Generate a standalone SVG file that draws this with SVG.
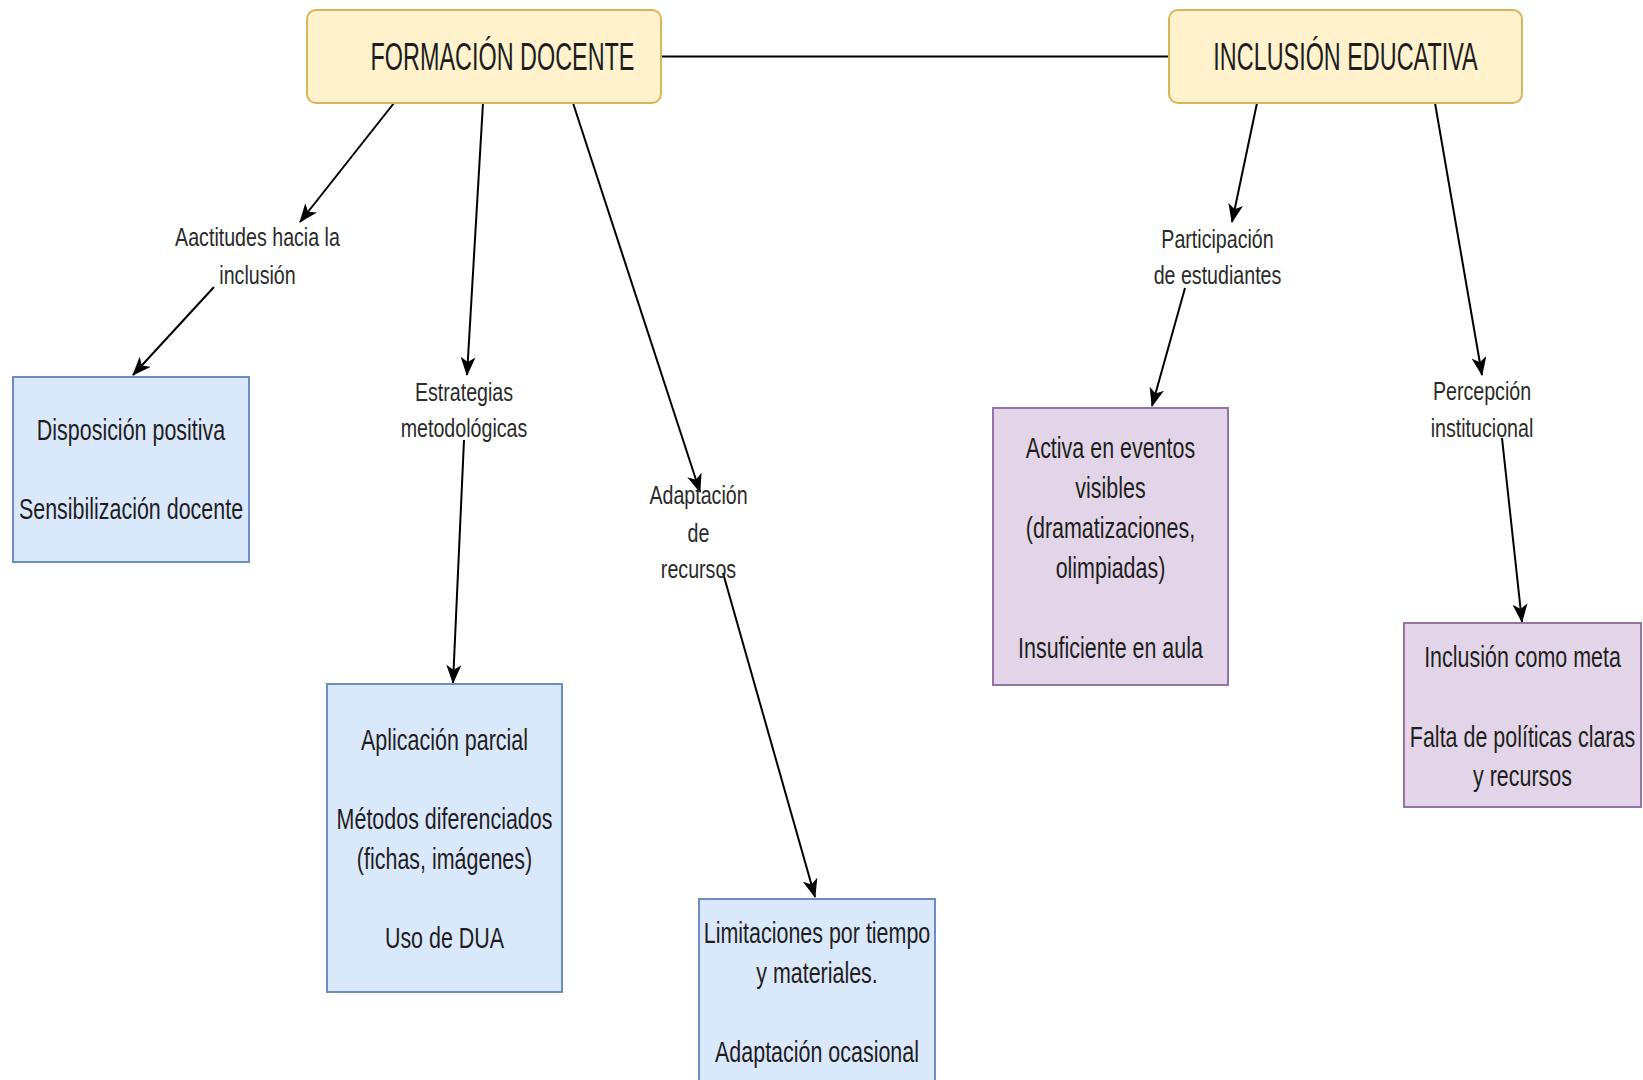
<svg xmlns="http://www.w3.org/2000/svg" width="1643" height="1080" viewBox="0 0 1643 1080">
  <style>
    .title { fill: #fff2cc; stroke: #d6b656; stroke-width: 2; }
    .blue { fill: #dae8fc; stroke: #6c8ebf; stroke-width: 2; }
    .purple { fill: #e1d5e7; stroke: #9673a6; stroke-width: 2; }
    text { font-family: "Liberation Sans", Arial, sans-serif; text-anchor: middle; }
    .tt { font-size: 39px; fill: #1e1e1e; }
    .nt { font-size: 29px; fill: #1e1e1e; }
    .lt { font-size: 25.5px; fill: #2a2a2a; }
    .edge { fill: none; stroke: #000; stroke-width: 2; }
  </style>
  <defs>
    <marker id="arrow" viewBox="0 0 19 15" refX="18" refY="7.5" markerWidth="19" markerHeight="15" markerUnits="userSpaceOnUse" orient="auto">
      <path d="M0,0 L19,7.5 L0,15 L5,7.5 Z" fill="#000"/>
    </marker>
  </defs>
  <rect width="1643" height="1080" fill="#fff"/>

  <!-- connectors -->
  <g id="connectors">
    <line class="edge" x1="661" y1="56.5" x2="1169" y2="56.5"/>
    <line class="edge" x1="394" y1="103" x2="300" y2="222" marker-end="url(#arrow)"/>
    <line class="edge" x1="214" y1="287" x2="133" y2="375" marker-end="url(#arrow)"/>
    <line class="edge" x1="483" y1="103" x2="467" y2="375" marker-end="url(#arrow)"/>
    <line class="edge" x1="464" y1="440" x2="453" y2="683" marker-end="url(#arrow)"/>
    <line class="edge" x1="573" y1="103" x2="700" y2="492" marker-end="url(#arrow)"/>
    <line class="edge" x1="723" y1="573" x2="815" y2="897" marker-end="url(#arrow)"/>
    <line class="edge" x1="1257" y1="103" x2="1232" y2="222" marker-end="url(#arrow)"/>
    <line class="edge" x1="1185" y1="288" x2="1152" y2="406" marker-end="url(#arrow)"/>
    <line class="edge" x1="1435" y1="103" x2="1482" y2="375" marker-end="url(#arrow)"/>
    <line class="edge" x1="1502" y1="438" x2="1522" y2="622" marker-end="url(#arrow)"/>
  </g>

  <!-- edge labels -->
  <g id="label-actitudes" transform="translate(257.5,0) scale(0.77,1)">
    <text class="lt" x="0" y="246">Aactitudes hacia la</text>
    <text class="lt" x="0" y="284">inclusión</text>
  </g>
  <g id="label-estrategias" transform="translate(464,0) scale(0.77,1)">
    <text class="lt" x="0" y="401">Estrategias</text>
    <text class="lt" x="0" y="437">metodológicas</text>
  </g>
  <g id="label-adaptacion" transform="translate(698.5,0) scale(0.77,1)">
    <text class="lt" x="0" y="504">Adaptación</text>
    <text class="lt" x="0" y="542">de</text>
    <text class="lt" x="0" y="578">recursos</text>
  </g>
  <g id="label-participacion" transform="translate(1217.5,0) scale(0.77,1)">
    <text class="lt" x="0" y="248">Participación</text>
    <text class="lt" x="0" y="284">de estudiantes</text>
  </g>
  <g id="label-percepcion" transform="translate(1482,0) scale(0.77,1)">
    <text class="lt" x="0" y="400">Percepción</text>
    <text class="lt" x="0" y="437">institucional</text>
  </g>

  <!-- main topics -->
  <g id="formacion-docente">
    <rect class="title" x="307" y="10" width="354" height="93" rx="9"/>
    <g transform="translate(502.5,0) scale(0.6,1)">
      <text class="tt" x="0" y="70">FORMACIÓN DOCENTE</text>
    </g>
  </g>
  <g id="inclusion-educativa">
    <rect class="title" x="1169" y="10" width="353" height="93" rx="9"/>
    <g transform="translate(1345.5,0) scale(0.6,1)">
      <text class="tt" x="0" y="70">INCLUSIÓN EDUCATIVA</text>
    </g>
  </g>

  <!-- findings: teacher training -->
  <g id="disposicion">
    <rect class="blue" x="13" y="377" width="236" height="185"/>
    <g transform="translate(131,0) scale(0.74,1)">
      <text class="nt" x="0" y="440">Disposición positiva</text>
      <text class="nt" x="0" y="519">Sensibilización docente</text>
    </g>
  </g>
  <g id="aplicacion">
    <rect class="blue" x="327" y="684" width="235" height="308"/>
    <g transform="translate(444.5,0) scale(0.74,1)">
      <text class="nt" x="0" y="750">Aplicación parcial</text>
      <text class="nt" x="0" y="829">Métodos diferenciados</text>
      <text class="nt" x="0" y="869">(fichas, imágenes)</text>
      <text class="nt" x="0" y="948">Uso de DUA</text>
    </g>
  </g>
  <g id="limitaciones">
    <rect class="blue" x="699" y="899" width="236" height="200"/>
    <g transform="translate(817,0) scale(0.74,1)">
      <text class="nt" x="0" y="943">Limitaciones por tiempo</text>
      <text class="nt" x="0" y="983">y materiales.</text>
      <text class="nt" x="0" y="1062">Adaptación ocasional</text>
    </g>
  </g>

  <!-- findings: educational inclusion -->
  <g id="participacion">
    <rect class="purple" x="993" y="408" width="235" height="277"/>
    <g transform="translate(1110.5,0) scale(0.74,1)">
      <text class="nt" x="0" y="458">Activa en eventos</text>
      <text class="nt" x="0" y="498">visibles</text>
      <text class="nt" x="0" y="538">(dramatizaciones,</text>
      <text class="nt" x="0" y="578">olimpiadas)</text>
      <text class="nt" x="0" y="658">Insuficiente en aula</text>
    </g>
  </g>
  <g id="percepcion">
    <rect class="purple" x="1404" y="623" width="237" height="184"/>
    <g transform="translate(1522.5,0) scale(0.74,1)">
      <text class="nt" x="0" y="667">Inclusión como meta</text>
      <text class="nt" x="0" y="747">Falta de políticas claras</text>
      <text class="nt" x="0" y="786">y recursos</text>
    </g>
  </g>
</svg>
